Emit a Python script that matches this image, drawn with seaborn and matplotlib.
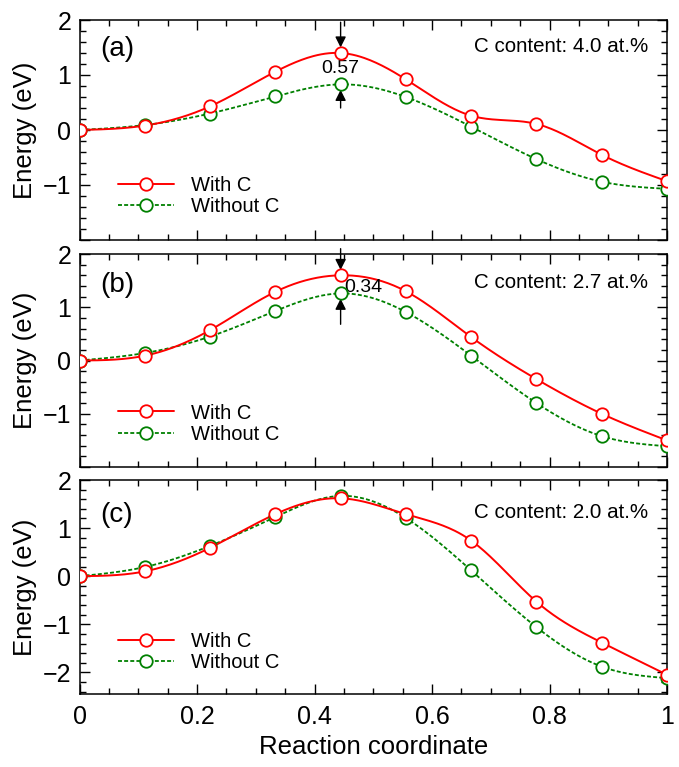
import numpy as np
import matplotlib
matplotlib.use('Agg')
import matplotlib.pyplot as plt
from matplotlib.lines import Line2D
from matplotlib.ticker import MultipleLocator
import seaborn as sns

# reaction coordinate of the 10 images
coord = [0, 1/9, 2/9, 3/9, 4/9, 5/9, 6/9, 7/9, 8/9, 1]

# energies (eV)
with_c_a = [0, 0.08, 0.43, 1.06, 1.40, 0.92, 0.26, 0.11, -0.45, -0.93]
without_c_a = [0, 0.09, 0.30, 0.61, 0.83, 0.60, 0.06, -0.53, -0.94, -1.07]
with_c_b = [0, 0.09, 0.57, 1.29, 1.60, 1.30, 0.44, -0.35, -1.00, -1.50]
without_c_b = [0, 0.14, 0.45, 0.93, 1.26, 0.91, 0.09, -0.80, -1.42, -1.61]
with_c_c = [0, 0.10, 0.59, 1.29, 1.62, 1.29, 0.74, -0.53, -1.38, -2.05]
without_c_c = [0, 0.19, 0.63, 1.23, 1.67, 1.21, 0.12, -1.06, -1.88, -2.12]

panel_labels = ['(a)', '(b)', '(c)']
contents = ['C content: 4.0 at.%', 'C content: 2.7 at.%', 'C content: 2.0 at.%']
barriers = ['0.57', '0.34', None]
ylims = [(-2, 2), (-2, 2), (-2.45, 2)]
xtick_vals = [0, 0.2, 0.4, 0.6, 0.8, 1]
xtick_labels = ['0', '0.2', '0.4', '0.6', '0.8', '1']

RED = '#ff0000'
GREEN = '#008000'


def natural_spline(x, y, n=300):
    # smooth curve through the points (natural cubic spline), like the original
    x = np.asarray(x, float)
    y = np.asarray(y, float)
    k = len(x)
    h = np.diff(x)
    A = np.zeros((k, k))
    r = np.zeros(k)
    A[0, 0] = A[-1, -1] = 1
    for i in range(1, k - 1):
        A[i, i - 1] = h[i - 1]
        A[i, i] = 2 * (h[i - 1] + h[i])
        A[i, i + 1] = h[i]
        r[i] = 6 * ((y[i + 1] - y[i]) / h[i] - (y[i] - y[i - 1]) / h[i - 1])
    M = np.linalg.solve(A, r)
    xs = np.linspace(x[0], x[-1], n)
    idx = np.clip(np.searchsorted(x, xs) - 1, 0, k - 2)
    x0, x1 = x[idx], x[idx + 1]
    hh = x1 - x0
    t0, t1 = x1 - xs, xs - x0
    ys = (M[idx] * t0**3 + M[idx + 1] * t1**3) / (6 * hh) \
        + (y[idx] / hh - M[idx] * hh / 6) * t0 \
        + (y[idx + 1] / hh - M[idx + 1] * hh / 6) * t1
    return xs, ys


sns.set_style('ticks')
plt.rcParams['font.family'] = ['Liberation Sans', 'DejaVu Sans']
plt.rcParams['axes.linewidth'] = 1.1
plt.rcParams['text.color'] = 'black'
plt.rcParams['axes.labelcolor'] = 'black'

fig = plt.figure(figsize=(6.79, 7.67), dpi=100)
W, H = 679, 767
left_px, right_px = 79.5, 667
boxes = [(20, 240), (254, 467), (480, 694)]
axes = []
for top, bot in boxes:
    axes.append(fig.add_axes([left_px / W, (H - bot) / H,
                              (right_px - left_px) / W, (bot - top) / H]))

series = [(with_c_a, without_c_a), (with_c_b, without_c_b), (with_c_c, without_c_c)]
label_y = [0.868, 0.854, 0.836]
legend_y = [0.200, 0.204, 0.196]

for i, ax in enumerate(axes):
    red, green = series[i]
    gx, gy = natural_spline(coord, green)
    rx, ry = natural_spline(coord, red)
    sns.lineplot(x=gx, y=gy, ax=ax, color=GREEN, lw=1.3, dashes=False,
                 linestyle=(0, (2.2, 1.2)), zorder=2)
    sns.lineplot(x=rx, y=ry, ax=ax, color=RED, lw=1.4, zorder=3)
    sns.scatterplot(x=coord, y=green, ax=ax, marker='o', s=80, facecolor='white',
                    edgecolor=GREEN, linewidth=1.3, zorder=4)
    sns.scatterplot(x=coord, y=red, ax=ax, marker='o', s=80, facecolor='white',
                    edgecolor=RED, linewidth=1.3, zorder=5)

    ax.set_xlim(0, 1)
    ax.set_ylim(*ylims[i])
    ax.xaxis.set_minor_locator(MultipleLocator(0.05))
    ax.yaxis.set_minor_locator(MultipleLocator(0.2))
    ax.set_xticks(xtick_vals)
    if i == 2:
        ax.set_xticklabels(xtick_labels)
        ax.set_xlabel('Reaction coordinate', fontsize=18.5, labelpad=4)
        ax.set_yticks([-2, -1, 0, 1, 2], labels=['\u22122', '\u22121', '0', '1', '2'])
    else:
        ax.set_xticklabels([])
        ax.set_yticks([-2, -1, 0, 1, 2], labels=['', '\u22121', '0', '1', '2'])
    ax.tick_params(which='both', direction='in', top=True, right=True, width=1.0,
                   labelsize=18, colors='black')
    ax.tick_params(which='major', length=7)
    ax.tick_params(which='minor', length=4)
    ax.tick_params(axis='y', pad=6)
    ax.tick_params(axis='x', pad=8)
    ax.set_ylabel('Energy (eV)', fontsize=18.5, labelpad=4)
    for sp in ax.spines.values():
        sp.set_visible(True)
        sp.set_color('black')

    ax.text(0.036, label_y[i], panel_labels[i], transform=ax.transAxes,
            fontsize=20, va='center', ha='left')
    ax.text(0.968, label_y[i] + 0.01, contents[i], transform=ax.transAxes,
            fontsize=14.8, va='center', ha='right')

    handles = [Line2D([], [], color=RED, lw=1.4, marker='o', ms=9,
                      mfc='white', mec=RED, mew=1.3),
               Line2D([], [], color=GREEN, lw=1.3, ls=(0, (2.2, 1.2)), marker='o',
                      ms=9, mfc='white', mec=GREEN, mew=1.3)]
    ax.legend(handles, ['With C', 'Without C'], loc='center left',
              bbox_to_anchor=(0.052, legend_y[i]), frameon=False, fontsize=14.5,
              handlelength=2.8, handletextpad=0.8, labelspacing=0.1,
              borderaxespad=0)

# energy difference arrows at the saddle point
arrow = dict(arrowstyle='-|>', color='black', lw=1.0, mutation_scale=16,
             shrinkA=0, shrinkB=0)
xs4 = coord[4]
ax = axes[0]
ax.annotate('', xy=(xs4, with_c_a[4] + 0.1), xytext=(xs4, 1.96), arrowprops=arrow)
ax.annotate('', xy=(xs4, without_c_a[4] - 0.1), xytext=(xs4, 0.40), arrowprops=arrow)
ax.text(xs4, 1.12, barriers[0], ha='center', va='center', fontsize=14)
ax = axes[1]
ax.annotate('', xy=(xs4, with_c_b[4] + 0.1), xytext=(xs4, 2.1),
            arrowprops=arrow, annotation_clip=False)
ax.annotate('', xy=(xs4, without_c_b[4] - 0.1), xytext=(xs4, 0.68), arrowprops=arrow)
ax.text(0.4826, 1.38, barriers[1], ha='center', va='center', fontsize=14)

fig.savefig('out.png', dpi=100)
